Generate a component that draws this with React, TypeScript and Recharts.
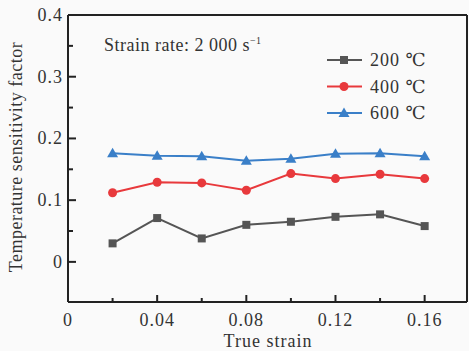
import { LineChart, Line, XAxis, YAxis, Label } from "recharts";

// true strain values (x) and temperature sensitivity factor for each temperature
const strain = [0.02, 0.04, 0.06, 0.08, 0.1, 0.12, 0.14, 0.16];
const t200 = [0.03, 0.071, 0.038, 0.06, 0.065, 0.073, 0.077, 0.058];
const t400 = [0.112, 0.129, 0.128, 0.116, 0.143, 0.135, 0.142, 0.135];
const t600 = [0.176, 0.172, 0.171, 0.164, 0.167, 0.175, 0.176, 0.171];

const xTicks = [0, 0.02, 0.04, 0.06, 0.08, 0.1, 0.12, 0.14, 0.16];
const yTicks = [0, 0.05, 0.1, 0.15, 0.2, 0.25, 0.3, 0.35, 0.4];

const seriesInfo = [
  { key: "t200", name: "200 ℃", color: "#555555", shape: "square" },
  { key: "t400", name: "400 ℃", color: "#e8393c", shape: "circle" },
  { key: "t600", name: "600 ℃", color: "#3a7fc8", shape: "triangle" },
];

const FONT = "'Liberation Serif', 'DejaVu Serif', serif";
const INK = "#222";

const chartData = strain.map((s, i) => ({
  strain: s,
  t200: t200[i],
  t400: t400[i],
  t600: t600[i],
}));

function Marker({ shape, cx, cy, color }: any) {
  if (shape === "square") {
    return <rect x={cx - 4} y={cy - 4} width={8} height={8} fill={color} />;
  }
  if (shape === "circle") {
    return <circle cx={cx} cy={cy} r={4.5} fill={color} />;
  }
  return <path d={`M${cx},${cy - 5.5} L${cx + 5.5},${cy + 4} L${cx - 5.5},${cy + 4} Z`} fill={color} />;
}

const makeDot = (shape: string, color: string) => (props: any) => (
  <Marker key={`${shape}-${props.index}`} shape={shape} cx={props.cx} cy={props.cy} color={color} />
);

function XTick({ x, y, payload }: any) {
  const v = payload.value;
  const major = Math.round(v * 100) % 4 === 0;
  return (
    <g>
      <line x1={x} x2={x} y1={y} y2={y - (major ? 7 : 4)} stroke={INK} strokeWidth={2} />
      {major && (
        <text x={x} y={y + 24} textAnchor="middle" fontFamily={FONT} fontSize={18} fill="#333" letterSpacing={1}>
          {v === 0 ? "0" : String(v)}
        </text>
      )}
    </g>
  );
}

function YTick({ x, y, payload }: any) {
  const v = payload.value;
  const major = Math.round(v * 100) % 10 === 0;
  return (
    <g>
      <line x1={x} x2={x + (major ? 8 : 5)} y1={y} y2={y} stroke={INK} strokeWidth={2} />
      {major && (
        <text x={x - 5} y={y + 6} textAnchor="end" fontFamily={FONT} fontSize={18} fill="#333" letterSpacing={1}>
          {v === 0 ? "0" : String(v)}
        </text>
      )}
    </g>
  );
}

function LegendBox() {
  return (
    <svg width={120} height={90} style={{ overflow: "visible", display: "block" }}>
      {seriesInfo.map((s, i) => {
        const cy = 12 + i * 26.5;
        return (
          <g key={s.key}>
            <line x1={5} x2={40} y1={cy} y2={cy} stroke={s.color} strokeWidth={2} />
            <Marker shape={s.shape} cx={22} cy={cy} color={s.color} />
            <text x={48} y={cy + 6} fontFamily={FONT} fontSize={18} fill="#333" letterSpacing={1}>
              {s.name}
            </text>
          </g>
        );
      })}
    </svg>
  );
}

export default function App() {
  return (
    <div style={{ position: "fixed", left: 0, top: 0, width: 469, height: 351, background: "#fafafa" }}>
      <LineChart
        width={469}
        height={351}
        data={chartData}
        margin={{ top: 14, right: 1, left: 67, bottom: 48 }}
      >
        <XAxis
          dataKey="strain"
          type="number"
          domain={[0, 0.179]}
          ticks={xTicks}
          interval={0}
          height={1}
          tickSize={0}
          tickMargin={0}
          tickLine={false}
          tick={<XTick />}
          axisLine={{ stroke: INK, strokeWidth: 2 }}
        >
          <Label
            content={() => (
              <text x={268} y={347} textAnchor="middle" fontFamily={FONT} fontSize={18} fill="#333" letterSpacing={1}>
                True strain
              </text>
            )}
          />
        </XAxis>
        <XAxis
          xAxisId="top"
          orientation="top"
          type="number"
          domain={[0, 0.179]}
          height={1}
          tick={false}
          tickLine={false}
          axisLine={{ stroke: INK, strokeWidth: 2 }}
        />
        <YAxis
          type="number"
          domain={[-0.065, 0.4]}
          ticks={yTicks}
          interval={0}
          width={1}
          tickSize={0}
          tickMargin={0}
          tickLine={false}
          tick={<YTick />}
          axisLine={{ stroke: INK, strokeWidth: 2 }}
        >
          <Label
            content={() => (
              <text
                transform="translate(22,157) rotate(-90)"
                textAnchor="middle"
                fontFamily={FONT}
                fontSize={18}
                fill="#333"
                letterSpacing={0.5}
              >
                Temperature sensitivity factor
              </text>
            )}
          />
        </YAxis>
        <YAxis
          yAxisId="right"
          orientation="right"
          type="number"
          domain={[-0.065, 0.4]}
          width={1}
          tick={false}
          tickLine={false}
          axisLine={{ stroke: INK, strokeWidth: 2 }}
        />
        {seriesInfo.map((s) => (
          <Line
            key={s.key}
            dataKey={s.key}
            name={s.name}
            stroke={s.color}
            strokeWidth={2}
            dot={makeDot(s.shape, s.color)}
            activeDot={false}
            isAnimationActive={false}
          />
        ))}
      </LineChart>
      <div style={{ position: "absolute", left: 322, top: 48 }}>
        <LegendBox />
      </div>
      <div
        style={{
          position: "absolute",
          left: 104,
          top: 35,
          fontFamily: FONT,
          fontSize: 18,
          color: "#333",
          letterSpacing: 0.5,
          whiteSpace: "nowrap",
        }}
      >
        Strain rate: 2 000 s<sup style={{ fontSize: 10 }}>−1</sup>
      </div>
    </div>
  );
}
